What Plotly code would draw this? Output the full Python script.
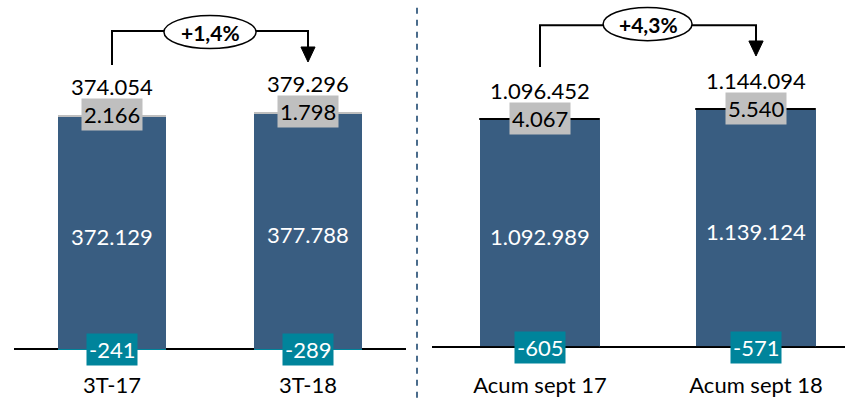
import plotly.graph_objects as go

# ---- data ----
cats_q = ["3T-17", "3T-18"]
main_q = [372129, 377788]
top_q = [2166, 1798]
neg_q = [-241, -289]
total_q = [374054, 379296]
pct_q = "+1,4%"

cats_a = ["Acum sept 17", "Acum sept 18"]
main_a = [1092989, 1139124]
top_a = [4067, 5540]
neg_a = [-605, -571]
total_a = [1096452, 1144094]
pct_a = "+4,3%"

BLUE = "#395D81"
TEAL = "#00849B"
GRAY = "#BFBFBF"
FONT = "Lato"
NUM_SIZE = 22

def fmt(v):
    s = f"{abs(v):,}".replace(",", ".")
    return ("-" if v < 0 else "") + s

fig = go.Figure()

panels = [
    dict(cats=cats_q, main=main_q, top=top_q, neg=neg_q, total=total_q, pct=pct_q,
         xa="x", ya="y", top_color=GRAY, top_line=0, neg_color=TEAL, neg_line=0,
         line_y=0.916, start_y=0.8243, tip_y=0.8324, base_y=0.8730, head=0.036,
         ell=(0.265, 0.735, 0.8689, 0.958)),
    dict(cats=cats_a, main=main_a, top=top_a, neg=neg_a, total=total_a, pct=pct_a,
         xa="x2", ya="y2", top_color="black", top_line=1, neg_color="black", neg_line=0.8,
         line_y=0.932, start_y=0.8189, tip_y=0.8486, base_y=0.8892, head=0.033,
         ell=(0.292, 0.704, 0.890, 0.980)),
]

W = 0.555
for p in panels:
    xs = list(range(len(p["cats"])))
    fig.add_trace(go.Bar(x=xs, y=p["main"], width=W, marker_color=BLUE,
                         marker_line_width=0, xaxis=p["xa"], yaxis=p["ya"], showlegend=False))
    fig.add_trace(go.Bar(x=xs, y=p["top"], width=W, marker_color=p["top_color"],
                         marker_line=dict(width=p["top_line"], color="black"),
                         xaxis=p["xa"], yaxis=p["ya"], showlegend=False))
    fig.add_trace(go.Bar(x=xs, y=p["neg"], width=W, marker_color=p["neg_color"],
                         marker_line=dict(width=p["neg_line"], color="black"),
                         xaxis=p["xa"], yaxis=p["ya"], showlegend=False))
    for i in xs:
        tot = p["main"][i] + p["top"][i]
        fig.add_annotation(x=i, y=p["main"][i] / 2, xref=p["xa"], yref=p["ya"],
                           text=fmt(p["main"][i]), showarrow=False, yshift=-3,
                           font=dict(family=FONT, size=NUM_SIZE, color="white"))
        fig.add_annotation(x=i, y=tot, xref=p["xa"], yref=p["ya"],
                           text=fmt(p["top"][i]), showarrow=False, yshift=1,
                           bgcolor=GRAY, borderpad=2,
                           font=dict(family=FONT, size=NUM_SIZE, color="black"))
        fig.add_annotation(x=i, y=tot, xref=p["xa"], yref=p["ya"],
                           text=fmt(p["total"][i]), showarrow=False, yshift=29,
                           font=dict(family=FONT, size=NUM_SIZE, color="black"))
        fig.add_annotation(x=i, y=0, xref=p["xa"], yref=p["ya"],
                           text=fmt(p["neg"][i]), showarrow=False,
                           bgcolor=TEAL, borderpad=2,
                           font=dict(family=FONT, size=NUM_SIZE, color="white"))
    xref = p["xa"]
    fig.add_shape(type="path", xref=xref, yref="paper",
                  path=f"M 0 {p['start_y']} L 0 {p['line_y']} L 1 {p['line_y']} L 1 {p['base_y']}",
                  line=dict(color="black", width=2))
    h = p["head"]
    fig.add_shape(type="path", xref=xref, yref="paper",
                  path=f"M {1-h} {p['base_y']} L {1+h} {p['base_y']} L 1 {p['tip_y']} Z",
                  fillcolor="black", line=dict(color="black", width=1))
    x0, x1, y0, y1 = p["ell"]
    fig.add_shape(type="circle", xref=xref, yref="paper", x0=x0, x1=x1, y0=y0, y1=y1,
                  fillcolor="white", line=dict(color="black", width=1.5))
    fig.add_annotation(x=0.5, y=(y0 + y1) / 2, xref=xref, yref="paper", text=f"<b>{p['pct']}</b>",
                       showarrow=False, xanchor="center", yanchor="middle",
                       font=dict(family=FONT, size=21, color="black"))

fig.add_shape(type="line", xref="paper", yref="paper", x0=417/850, x1=417/850, y0=-0.075, y1=0.99,
              line=dict(color="#4A6C8C", width=2, dash="6px,6px"))

axis_x = dict(showgrid=False, zeroline=False, showline=False, ticks="",
              tickfont=dict(family=FONT, size=22, color="black"), fixedrange=True)
axis_y = dict(showgrid=False, showticklabels=False, zeroline=True, zerolinecolor="black",
              zerolinewidth=1.5, showline=False, fixedrange=True)

fig.update_layout(
    width=850, height=400, margin=dict(l=0, r=0, t=0, b=30),
    paper_bgcolor="white", plot_bgcolor="white", barmode="relative", bargap=0,
    font=dict(family=FONT),
    xaxis=dict(axis_x, domain=[14/850, 406/850], range=[-0.5, 1.5],
               tickvals=[0, 1], ticktext=cats_q),
    yaxis=dict(axis_y, domain=[0, 1], range=[-33684, 559798]),
    xaxis2=dict(axis_x, domain=[432/850, 845/850], range=[-0.5, 1.412], anchor="y2",
                tickvals=[0, 1], ticktext=cats_a),
    yaxis2=dict(axis_y, domain=[0, 1], range=[-110743, 1670781], anchor="x2"),
)

fig.write_html("out.html", config={"displayModeBar": False},
               post_script="document.body.style.margin='0';document.body.style.overflow='hidden';")
